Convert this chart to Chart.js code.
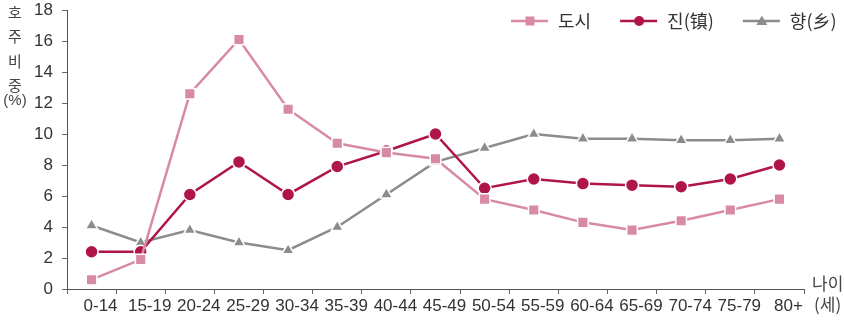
<!DOCTYPE html>
<html>
<head>
<meta charset="utf-8">
<script src="https://cdn.jsdelivr.net/npm/chart.js@4.4.1/dist/chart.umd.min.js"></script>
<style>
  html, body { margin: 0; padding: 0; background: #fff; }
  #wrap { width: 845px; height: 326px; position: relative; }
</style>
</head>
<body>
<div id="wrap"><canvas id="myChart"></canvas></div>
<script>
// categorias (edad)
const edades = ['0-14','15-19','20-24','25-29','30-34','35-39','40-44','45-49','50-54','55-59','60-64','65-69','70-74','75-79','80+'];
// series
const dosi  = [0.6, 1.9, 12.6, 16.1, 11.6, 9.4, 8.8, 8.4, 5.8, 5.1, 4.3, 3.8, 4.4, 5.1, 5.8];
const jin   = [2.4, 2.4, 6.1, 8.2, 6.1, 7.9, 8.9, 10.0, 6.5, 7.1, 6.8, 6.7, 6.6, 7.1, 8.0];
const hyang = [4.1, 3.0, 3.8, 3.0, 2.5, 4.0, 6.1, 8.2, 9.1, 10.0, 9.7, 9.7, 9.6, 9.6, 9.7];
const etiquetas = ['도시', '진(镇)', '향(乡)'];
const Y_MAX = 18;
const Y_STEP = 2;

const FONT_TICK = "'Liberation Sans Narrow', 'Liberation Sans', sans-serif";
const FONT_KR = "'Noto Sans CJK KR', sans-serif";

// dibuja el marcador de la leyenda
function marca(ctx, estilo, x, y, color) {
  ctx.fillStyle = color;
  ctx.beginPath();
  if (estilo === 'rect') {
    ctx.rect(x - 4.5, y - 4.5, 9, 9);
  } else if (estilo === 'circle') {
    ctx.arc(x, y, 5, 0, Math.PI * 2);
  } else {
    ctx.moveTo(x, y - 5.5);
    ctx.lineTo(x + 5.5, y + 4);
    ctx.lineTo(x - 5.5, y + 4);
    ctx.closePath();
  }
  ctx.fill();
}

// leyenda y titulos de ejes
const extras = {
  id: 'extras',
  afterDraw(chart) {
    const ctx = chart.ctx;
    const area = chart.chartArea;
    ctx.save();

    // leyenda
    ctx.font = '18px ' + FONT_KR;
    ctx.textBaseline = 'middle';
    ctx.textAlign = 'left';
    let x = 511;
    const y = 21;
    chart.data.datasets.forEach((ds) => {
      ctx.strokeStyle = ds.borderColor;
      ctx.lineWidth = 2.5;
      ctx.beginPath();
      ctx.moveTo(x, y);
      ctx.lineTo(x + 37, y);
      ctx.stroke();
      marca(ctx, ds.pointStyle, x + 19, y, ds.borderColor);
      ctx.fillStyle = '#333';
      ctx.fillText(ds.label, x + 47, y);
      x += 47 + ctx.measureText(ds.label).width + 29;
    });

    // titulo eje y (vertical, letra por letra)
    ctx.font = '15px ' + FONT_KR;
    ctx.fillStyle = '#444';
    ctx.textAlign = 'center';
    const tit = ['호', '주', '비', '중'];
    tit.forEach((t, i) => ctx.fillText(t, 15, 12 + i * 24.5));
    ctx.font = '15px ' + FONT_TICK;
    ctx.fillText('(%)', 15, 101);

    // titulo eje x
    ctx.font = '17px ' + FONT_KR;
    ctx.textAlign = 'left';
    ctx.fillText('나이', area.right + 8, area.bottom - 5);
    ctx.fillText('(세)', area.right + 10, area.bottom + 16);
    ctx.restore();
  }
};

const comun = {
  borderWidth: 2.5,
  pointBorderColor: '#fff',
  pointBorderWidth: 1.5,
  tension: 0,
  fill: false
};

const ctx = document.querySelector('#myChart').getContext('2d');
const myChart = new Chart(ctx, {
  type: 'line',
  data: {
    labels: edades,
    datasets: [
      Object.assign({ label: etiquetas[0], data: dosi, borderColor: '#d88aa4', backgroundColor: '#d88aa4',
        pointBackgroundColor: '#d88aa4', pointStyle: 'rect', pointRadius: 7.5 }, comun),
      Object.assign({ label: etiquetas[1], data: jin, borderColor: '#b01548', backgroundColor: '#b01548',
        pointBackgroundColor: '#b01548', pointStyle: 'circle', pointRadius: 6.5 }, comun),
      Object.assign({ label: etiquetas[2], data: hyang, borderColor: '#8c8c8c', backgroundColor: '#8c8c8c',
        pointBackgroundColor: '#8c8c8c', pointStyle: 'triangle', pointRadius: 7 }, comun)
    ]
  },
  options: {
    responsive: true,
    maintainAspectRatio: false,
    animation: { duration: 0 },
    layout: { padding: { left: 0, right: 41, top: 0, bottom: 0 } },
    plugins: {
      legend: { display: false },
      tooltip: { enabled: false }
    },
    scales: {
      x: {
        offset: true,
        afterFit: (s) => { s.height = 37; },
        grid: { display: true, drawOnChartArea: false, drawTicks: true, tickLength: 5, color: '#666', offset: true },
        border: { display: true, color: '#555', width: 1 },
        ticks: { color: '#333', font: { family: FONT_TICK, size: 17 }, padding: 2, labelOffset: 9,
          maxRotation: 0, autoSkip: false }
      },
      y: {
        min: 0,
        max: Y_MAX,
        afterFit: (s) => { s.width = 67; s.paddingTop = 10; s.paddingBottom = 0; },
        grid: { display: true, drawOnChartArea: false, drawTicks: true, tickLength: 5, color: '#666' },
        border: { display: true, color: '#555', width: 1 },
        ticks: { stepSize: Y_STEP, color: '#333', font: { family: FONT_TICK, size: 17 }, padding: 9 }
      }
    }
  },
  plugins: [extras]
});
</script>
</body>
</html>
